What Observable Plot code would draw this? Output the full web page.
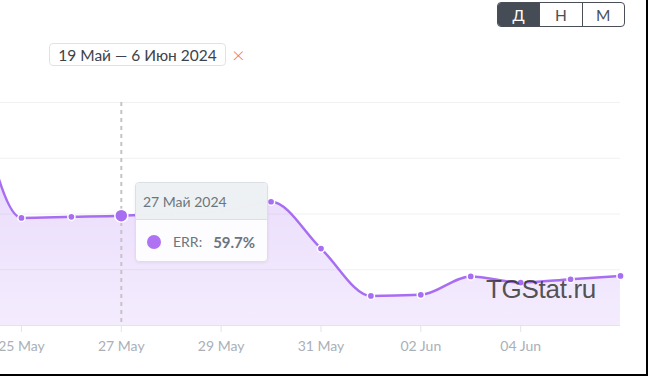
<!DOCTYPE html>
<html>
<head>
<meta charset="utf-8">
<script src="https://cdn.jsdelivr.net/npm/d3@7"></script>
<script src="https://cdn.jsdelivr.net/npm/@observablehq/plot@0.6"></script>
<style>
  html, body { margin: 0; padding: 0; background: #fff; }
  body { width: 648px; height: 376px; position: relative; overflow: hidden; font-family: Lato, "Noto Sans", sans-serif; }
  #chart { position: absolute; left: 0; top: 0; }
  .btns { position: absolute; left: 497px; top: 2px; width: 128px; height: 25px; display: flex; border: 1px solid #4a4f57; border-radius: 4px; overflow: hidden; box-sizing: border-box; }
  .btns div { flex: 1; display: flex; align-items: center; justify-content: center; font-size: 15.5px; color: #495057; border-left: 1px solid #4a4f57; }
  .btns div:first-child { border-left: none; background: #464c55; color: #fff; }
  .pill { position: absolute; left: 49px; top: 43px; width: 177px; height: 23px; box-sizing: border-box; border: 1px solid #dfe3e8; border-radius: 4px; font-size: 15.5px; color: #3d434a; display: flex; align-items: center; justify-content: center; }
  .x { position: absolute; left: 232px; top: 43px; font-size: 22px; line-height: 24px; color: #f36b6b; font-weight: 300; }
  .tip { position: absolute; left: 135px; top: 182px; width: 133px; height: 80px; box-sizing: border-box; border: 1px solid #dcdfe3; border-radius: 4px; background: rgba(255,255,255,0.88); overflow: hidden; box-shadow: 0 1px 3px rgba(0,0,0,0.06); }
  .tip .hd { height: 36px; background: rgba(236,239,241,0.88); border-bottom: 1px solid #dcdfe3; font-size: 14px; color: #6c757d; display: flex; align-items: center; padding-left: 7px; }
  .tip .bd { height: 43px; display: flex; align-items: center; padding-left: 11px; font-size: 14px; color: #6c757d; }
  .tip .dot { width: 14px; height: 14px; border-radius: 50%; background: #ae72f3; margin-right: 12px; }
  .tip b { margin-left: 11px; font-weight: 700; font-size: 15px; color: #6c757d; }
  .wm { position: absolute; left: 486px; top: 274px; font-family: "Liberation Sans", Arial, sans-serif; font-size: 26px; color: rgba(40,40,40,0.8); letter-spacing: -0.3px; }
  .frameR { position: absolute; left: 646px; top: 0; width: 2px; height: 376px; background: #000; }
  .frameB { position: absolute; left: 0; top: 374px; width: 648px; height: 2px; background: #000; }
</style>
</head>
<body>
<div id="chart"></div>
<div class="btns"><div>Д</div><div>Н</div><div>М</div></div>
<div class="pill">19 Май — 6 Июн 2024</div>
<div class="x">×</div>
<div class="wm">TGStat.ru</div>
<div class="tip"><div class="hd" id="tiphd"></div><div class="bd"><div class="dot"></div><span id="tiplbl"></span><b id="tipval"></b></div></div>
<div class="frameR"></div>
<div class="frameB"></div>
<script>
// Data
const dates = ["2024-05-24","2024-05-25","2024-05-26","2024-05-27","2024-05-28","2024-05-29","2024-05-30","2024-05-31","2024-06-01","2024-06-02","2024-06-03","2024-06-04","2024-06-05","2024-06-06"];
const err = [86, 59.3, 59.5, 59.7, 60.1, 60.4, 62.2, 53.8, 45.3, 45.5, 48.8, 47.7, 48.3, 48.9];
const tickDates = ["2024-05-25","2024-05-27","2024-05-29","2024-05-31","2024-06-02","2024-06-04"];
const gridValues = [40, 50, 60, 70, 80];
const highlightDate = "2024-05-27";
const seriesName = "ERR";
const tooltipTitle = "27 Май 2024";

const data = dates.map((d, i) => ({date: new Date(d + "T00:00:00Z"), v: err[i]}));
const visible = data.filter(d => d.date >= new Date("2024-05-25T00:00:00Z"));
const hi = data.find(d => +d.date === +new Date(highlightDate + "T00:00:00Z"));
const xStart = new Date(Date.UTC(2024, 4, 25) - 0.42 * 86400000);
const xEnd = new Date("2024-06-06T00:00:00Z");

const purple = "#a86ef2";
const fmt = d3.utcFormat("%d %b");

const chart = Plot.plot({
  width: 648, height: 376,
  marginTop: 102, marginBottom: 51, marginLeft: 0, marginRight: 28,
  style: {fontFamily: "Lato, 'Noto Sans', sans-serif", fontSize: "14px", background: "transparent"},
  x: {type: "utc", domain: [xStart, xEnd], axis: null},
  y: {domain: [40, 80], axis: null},
  marks: [
    Plot.ruleY(gridValues.slice(1), {stroke: "#f1f1f3", strokeWidth: 1}),
    Plot.areaY(data, {x: "date", y1: 40, y2: "v", curve: "monotone-x", fill: "url(#errgrad)", clip: true}),
    Plot.ruleY([40], {stroke: "#e4e4e8", strokeWidth: 1}),
    Plot.ruleX([hi.date], {y1: 80, y2: 40, stroke: "#c4c4c8", strokeWidth: 2, strokeDasharray: "4,4"}),
    Plot.line(data, {x: "date", y: "v", curve: "monotone-x", stroke: purple, strokeWidth: 2.5, clip: true}),
    Plot.dot(visible.filter(d => d !== hi), {x: "date", y: "v", r: 3.6, fill: purple, stroke: "#fff", strokeWidth: 1.5}),
    Plot.dot([hi], {x: "date", y: "v", r: 6.5, fill: purple, stroke: "#fff", strokeWidth: 1.5}),
    Plot.axisX(tickDates.map(d => new Date(d + "T00:00:00Z")), {
      tickSize: 7, tickPadding: 9, stroke: "#e4e4e8", fill: "#a9b0b8", tickFormat: fmt, fontSize: 14
    })
  ]
});

// gradient for area
const svg = d3.select(chart);
const defs = svg.insert("defs", ":first-child");
const g = defs.append("linearGradient").attr("id", "errgrad").attr("x1", 0).attr("x2", 0).attr("y1", 0).attr("y2", 1);
g.append("stop").attr("offset", "0%").attr("stop-color", purple).attr("stop-opacity", 0.32);
g.append("stop").attr("offset", "100%").attr("stop-color", purple).attr("stop-opacity", 0.13);
document.getElementById("chart").appendChild(chart);

document.getElementById("tiphd").textContent = tooltipTitle;
document.getElementById("tiplbl").textContent = seriesName + ":";
document.getElementById("tipval").textContent = hi.v.toFixed(1) + "%";
</script>
</body>
</html>
